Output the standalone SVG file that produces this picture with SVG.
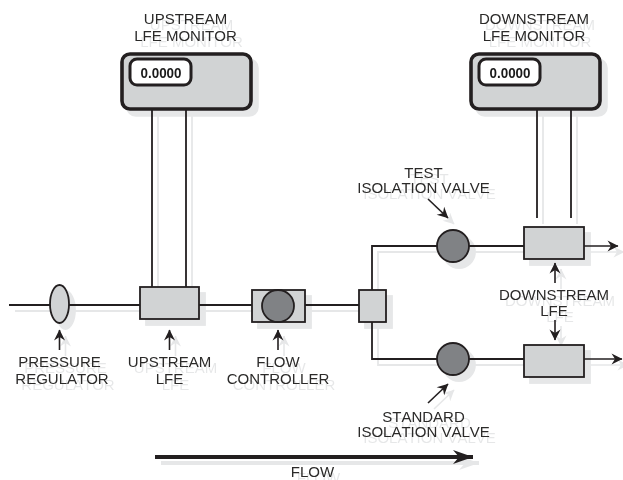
<svg xmlns="http://www.w3.org/2000/svg" width="623" height="480" viewBox="0 0 623 480">
<style>
text{font-family:"Liberation Sans",Arial,sans-serif;font-size:15px;font-kerning:none;fill:#2b2a29;text-anchor:middle}
.v{font-size:15px;font-weight:bold;fill:#1a1a1a}
.l{fill:none;stroke:#231f20;stroke-width:1.8}
.d{fill:none;stroke:#231f20;stroke-width:1.6;marker-end:url(#a)}
.b{fill:#d1d3d4;stroke:#231f20;stroke-width:1.8}
.m{fill:#d1d3d4;stroke:#231f20;stroke-width:3.6}
.s{fill:#fff;stroke:#231f20;stroke-width:3}
.c{fill:#808285;stroke:#231f20;stroke-width:1.8}
</style>
<defs>
<marker id="a" markerUnits="userSpaceOnUse" markerWidth="14" markerHeight="14" refX="11.500" refY="7" orient="auto"><path d="M1 1.500L12 7L1 12.500L4.500 7Z" fill="#231f20"/></marker>
<marker id="f" markerUnits="userSpaceOnUse" markerWidth="24" markerHeight="18" refX="21" refY="9" orient="auto"><path d="M1 2L21 9L1 16L7 9Z" fill="#231f20"/></marker>
<filter id="sh" x="0" y="0" width="623" height="480" filterUnits="userSpaceOnUse" color-interpolation-filters="sRGB">
<feOffset in="SourceAlpha" dx="6" dy="6" result="o"/>
<feFlood flood-color="#e6e7e8"/><feComposite in2="o" operator="in"/>
<feMerge><feMergeNode/><feMergeNode in="SourceGraphic"/></feMerge>
</filter>
</defs>
<g filter="url(#sh)">
<g id="connectors">
<path class="l" d="M9 305H140M199 305H252M305 305H359"/>
<path class="l" d="M152 110V287M186 110V287"/>
<path class="l" d="M537 110V218M571 110V218"/>
<path class="l" d="M372 290V246H524M372 322V359H524"/>
<path class="d" d="M584 246H618"/>
<path class="d" d="M584 359H622"/>
<path class="d" d="M59.500 350V330"/>
<path class="d" d="M169.500 350V330"/>
<path class="d" d="M278 350V330"/>
<path class="d" d="M428 199L448 218"/>
<path class="d" d="M428 403L448 384"/>
<path class="d" d="M555 283V263"/>
<path class="d" d="M555 320V340"/>
<path style="fill:none;stroke:#231f20;stroke-width:3.8;marker-end:url(#f)" d="M155 457H473"/>
</g>
<g id="upstream-monitor">
<rect class="m" x="122" y="54" width="129" height="55" rx="8"/>
<rect class="s" x="130" y="59" width="61" height="26" rx="7"/>
<text class="v" x="161" y="78" textLength="41" lengthAdjust="spacingAndGlyphs">0.0000</text>
<text x="185.500" y="24">UPSTREAM</text><text x="185.500" y="41">LFE MONITOR</text>
</g>
<g id="downstream-monitor">
<rect class="m" x="471" y="54" width="129" height="55" rx="8"/>
<rect class="s" x="479" y="59" width="61" height="26" rx="7"/>
<text class="v" x="510" y="78" textLength="41" lengthAdjust="spacingAndGlyphs">0.0000</text>
<text x="534" y="24">DOWNSTREAM</text><text x="534" y="41">LFE MONITOR</text>
</g>
<g id="pressure-regulator">
<ellipse class="b" cx="59.500" cy="304" rx="9.500" ry="19"/>
<text x="59.500" y="367">PRESSURE</text><text x="62" y="384">REGULATOR</text>
</g>
<g id="upstream-lfe">
<rect class="b" x="140" y="287" width="59" height="32"/>
<text x="169.500" y="367">UPSTREAM</text><text x="169.500" y="384">LFE</text>
</g>
<g id="flow-controller">
<rect class="b" x="252" y="290" width="53" height="32"/>
<circle class="c" cx="278" cy="306" r="16"/>
<text x="278" y="367">FLOW</text><text x="278" y="384">CONTROLLER</text>
</g>
<g id="junction"><rect class="b" x="359" y="290" width="27" height="32"/></g>
<g id="test-valve">
<circle class="c" cx="453" cy="246" r="16"/>
<text x="423.500" y="177.500">TEST</text><text x="423.500" y="193">ISOLATION VALVE</text>
</g>
<g id="standard-valve">
<circle class="c" cx="453" cy="359" r="16"/>
<text x="423.500" y="421.500">STANDARD</text><text x="423.500" y="437">ISOLATION VALVE</text>
</g>
<g id="downstream-lfe">
<rect class="b" x="524" y="227" width="60" height="32"/>
<rect class="b" x="524" y="345" width="60" height="32"/>
<text x="554" y="300">DOWNSTREAM</text><text x="554" y="316">LFE</text>
</g>
<g id="flow"><text x="312.500" y="476.500">FLOW</text></g>
</g>
</svg>
